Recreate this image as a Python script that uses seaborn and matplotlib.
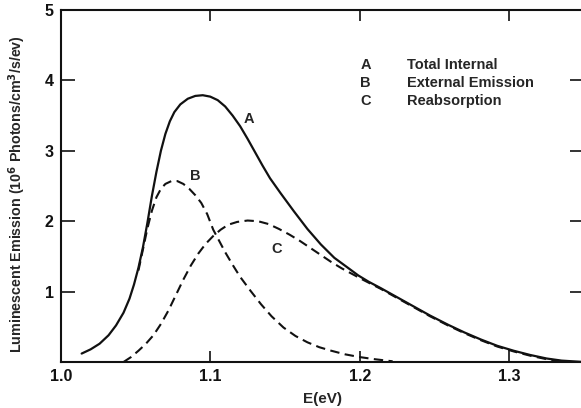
import matplotlib
matplotlib.use("Agg")
import matplotlib.pyplot as plt
import seaborn as sns
import numpy as np
import pandas as pd

# curve A: total internal
e_a = [1.014, 1.020, 1.026, 1.032, 1.037, 1.042, 1.046, 1.049, 1.052, 1.055,
       1.058, 1.061, 1.064, 1.067, 1.070, 1.073, 1.076, 1.080, 1.085, 1.090,
       1.095, 1.100, 1.105, 1.110, 1.115, 1.120, 1.125, 1.130, 1.135, 1.140,
       1.147, 1.156, 1.165, 1.174, 1.183, 1.192, 1.199, 1.206, 1.214, 1.225,
       1.236, 1.247, 1.259, 1.270, 1.281, 1.292, 1.303, 1.314, 1.325, 1.335,
       1.350]
lum_a = [0.12, 0.18, 0.26, 0.38, 0.52, 0.70, 0.90, 1.10, 1.34, 1.63,
         1.98, 2.36, 2.70, 3.00, 3.24, 3.42, 3.55, 3.66, 3.74, 3.78,
         3.79, 3.77, 3.72, 3.63, 3.50, 3.35, 3.17, 2.98, 2.79, 2.61,
         2.40, 2.14, 1.89, 1.67, 1.48, 1.34, 1.23, 1.14, 1.05, 0.92,
         0.79, 0.66, 0.53, 0.42, 0.32, 0.23, 0.16, 0.10, 0.05, 0.02,
         0.0]

# curve B: external emission
e_b = [1.052, 1.055, 1.058, 1.061, 1.064, 1.067, 1.070, 1.074, 1.078, 1.082,
       1.086, 1.090, 1.094, 1.098, 1.102, 1.106, 1.110, 1.115, 1.120, 1.127,
       1.134, 1.141, 1.149, 1.157, 1.165, 1.173, 1.181, 1.190, 1.200, 1.210,
       1.222]
lum_b = [1.30, 1.60, 1.90, 2.15, 2.34, 2.46, 2.53, 2.57, 2.57, 2.53,
         2.46, 2.37, 2.26, 2.10, 1.88, 1.72, 1.56, 1.38, 1.21, 1.01,
         0.82, 0.65, 0.49, 0.37, 0.28, 0.21, 0.16, 0.11, 0.07, 0.04,
         0.01]

# curve C: reabsorption
e_c = [1.042, 1.047, 1.052, 1.057, 1.062, 1.067, 1.072, 1.077, 1.082, 1.087,
       1.092, 1.097, 1.102, 1.107, 1.112, 1.118, 1.125, 1.132, 1.139, 1.146,
       1.153, 1.160, 1.167, 1.174, 1.181, 1.188, 1.195, 1.202, 1.214, 1.225,
       1.236, 1.247, 1.259, 1.270, 1.281, 1.292, 1.303, 1.314, 1.325, 1.335]
lum_c = [0.0, 0.07, 0.16, 0.26, 0.38, 0.54, 0.73, 0.95, 1.17, 1.37,
         1.54, 1.68, 1.79, 1.88, 1.95, 1.99, 2.01, 2.00, 1.96, 1.89,
         1.81, 1.72, 1.62, 1.52, 1.42, 1.33, 1.25, 1.17, 1.04, 0.91,
         0.78, 0.65, 0.52, 0.41, 0.31, 0.22, 0.15, 0.09, 0.04, 0.01]

legend_keys = ["A", "B", "C"]
legend_names = ["Total Internal", "External Emission", "Reabsorption"]

sns.set_style("ticks")
plt.rcParams['font.family'] = ['Liberation Sans', 'DejaVu Sans']
plt.rcParams['font.weight'] = 'bold'

fig = plt.figure(figsize=(5.81, 4.08), dpi=100)
ax = fig.add_axes([0.1045, 0.1127, 0.9007, 0.8627])

ink = '#111111'
dash = (0, (4.5, 2.6))
sns.lineplot(x=e_a, y=lum_a, ax=ax, color=ink, lw=1.6, sort=False)
sns.lineplot(x=e_b, y=lum_b, ax=ax, color=ink, lw=1.5, sort=False, linestyle=dash)
sns.lineplot(x=e_c, y=lum_c, ax=ax, color=ink, lw=1.5, sort=False, linestyle=dash)

# curve labels
ax.text(1.1257, 3.45, "A", fontsize=10.5, fontweight='bold', ha='center', va='center')
ax.text(1.090, 2.64, "B", fontsize=10.5, fontweight='bold', ha='center', va='center')
ax.text(1.1447, 1.61, "C", fontsize=10.5, fontweight='bold', ha='center', va='center')

# key
for i, (k, n) in enumerate(zip(legend_keys, legend_names)):
    yv = 4.22 - i * 0.255
    ax.text(1.204, yv, k, fontsize=10.5, fontweight='bold', ha='center', va='center')
    ax.text(1.2315, yv, n, fontsize=10.5, fontweight='bold', ha='left', va='center')

ax.set_xlim(1.0, 1.35)
ax.set_ylim(0, 5)
ax.set_xticks([1.0, 1.1, 1.2, 1.3])
ax.set_xticklabels(["1.0", "1.1", "1.2", "1.3"])
ax.set_yticks([1, 2, 3, 4, 5])
ax.tick_params(direction='in', length=10, width=1.2, top=True, right=True,
               labelsize=11.5, colors=ink, pad=5)
ax.tick_params(axis='x', length=8, pad=5)
for lab in ax.get_xticklabels() + ax.get_yticklabels():
    lab.set_fontweight('bold')
for s in ax.spines.values():
    s.set_linewidth(1.5)
    s.set_color(ink)

ax.set_xlabel("E(eV)", fontsize=11, fontweight='bold', labelpad=6)
ax.set_ylabel("Luminescent Emission (10$^\\mathbf{6}$ Photons/cm$^\\mathbf{3}$/s/ev)",
              fontsize=10.3, fontweight='bold')
ax.yaxis.set_label_coords(-0.0625, 0.477)

fig.savefig("out.png", dpi=100)
